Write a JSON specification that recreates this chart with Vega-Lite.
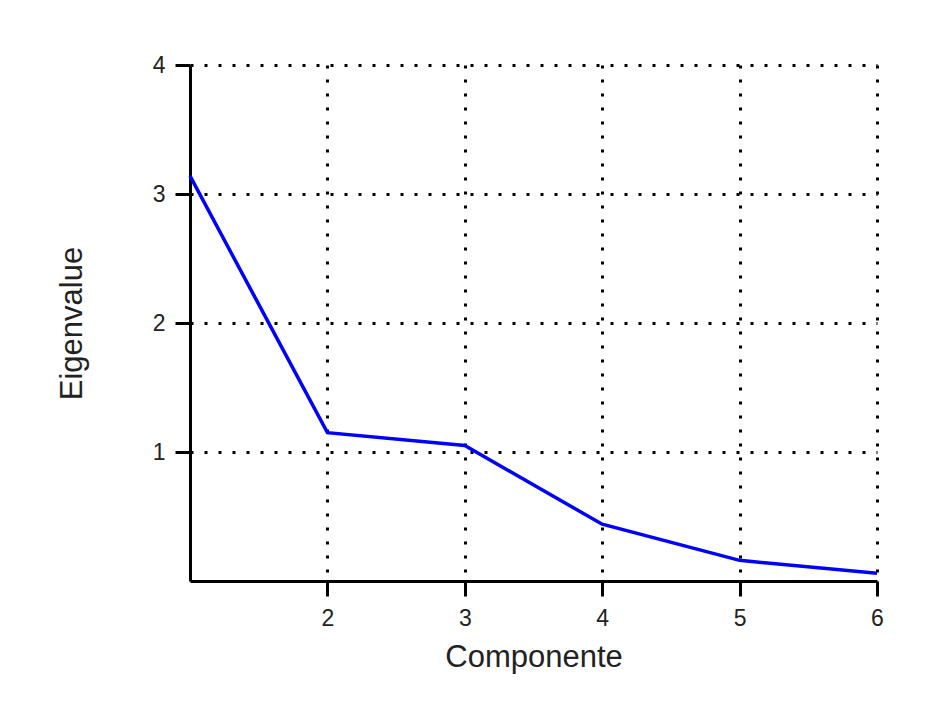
{
  "$schema": "https://vega.github.io/schema/vega-lite/v6.json",
  "width": 687,
  "height": 516,
  "autosize": {"type": "none"},
  "padding": {"left": 190, "top": 65, "right": 61, "bottom": 146},
  "background": "white",
  "config": {
    "view": {"stroke": null},
    "font": "Liberation Sans",
    "axis": {
      "domainColor": "black",
      "domainWidth": 3,
      "tickColor": "black",
      "tickWidth": 3,
      "tickSize": 15,
      "labelFont": "Liberation Sans",
      "labelFontSize": 23,
      "labelColor": "#222",
      "labelFlush": false,
      "labelOverlap": false,
      "titleFont": "Liberation Sans",
      "titleFontSize": 31,
      "titleFontWeight": "normal",
      "titleColor": "#222",
      "gridColor": "black",
      "gridWidth": 3,
      "gridDash": [3, 11],
      "gridOpacity": 1
    }
  },
  "data": {
    "values": [
      {"componente": 1, "eigenvalue": 3.14},
      {"componente": 2, "eigenvalue": 1.15},
      {"componente": 3, "eigenvalue": 1.05},
      {"componente": 4, "eigenvalue": 0.44},
      {"componente": 5, "eigenvalue": 0.16},
      {"componente": 6, "eigenvalue": 0.06}
    ]
  },
  "mark": {"type": "line", "color": "#0000ff", "strokeWidth": 3.5, "clip": false},
  "encoding": {
    "x": {
      "field": "componente",
      "type": "quantitative",
      "scale": {"domain": [1, 6], "nice": false, "zero": false},
      "axis": {
        "title": "Componente",
        "values": [2, 3, 4, 5, 6],
        "format": "d",
        "labelPadding": 11,
        "titlePadding": 12
      }
    },
    "y": {
      "field": "eigenvalue",
      "type": "quantitative",
      "scale": {"domain": [0, 4], "nice": false},
      "axis": {
        "title": "Eigenvalue",
        "values": [1, 2, 3, 4],
        "format": "d",
        "labelPadding": 10,
        "titlePadding": 64
      }
    }
  }
}
